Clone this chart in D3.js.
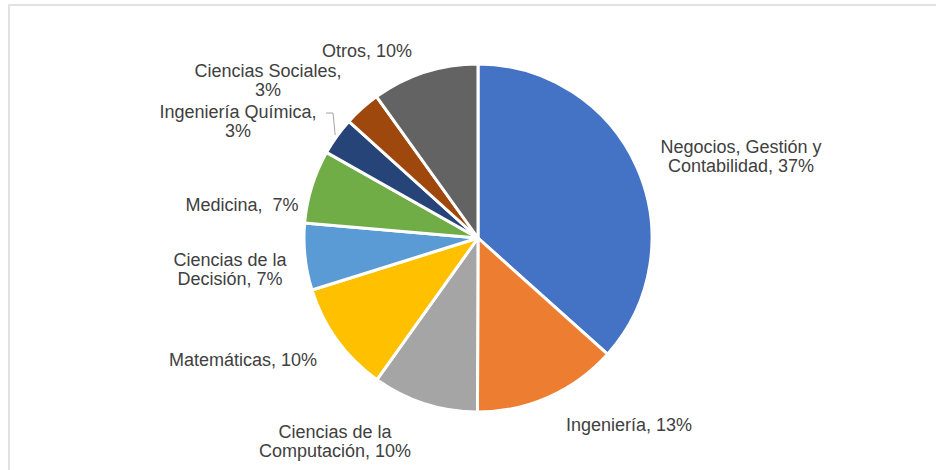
<!DOCTYPE html>
<html>
<head>
<meta charset="utf-8">
<script src="https://cdn.jsdelivr.net/npm/d3@7"></script>
<style>
html,body{margin:0;padding:0;background:#fff;}
svg{display:block;}
text{font-family:"Liberation Sans",Arial,sans-serif;font-size:18px;fill:#404040;white-space:pre;}
</style>
</head>
<body>
<svg id="chart" width="936" height="470"></svg>
<script>
// Data
const categories = ["Negocios, Gestión y Contabilidad","Ingeniería","Ciencias de la Computación","Matemáticas","Ciencias de la Decisión","Medicina","Ingeniería Química","Ciencias Sociales","Otros"];
const values = [36.6, 13.4, 9.8, 10.3, 6.2, 6.8, 3.5, 3.4, 9.9];
const shownPercent = ["37%","13%","10%","10%","7%","7%","3%","3%","10%"];
const labelLines = [
  ["Negocios, Gestión y","Contabilidad, 37%"],
  ["Ingeniería, 13%"],
  ["Ciencias de la","Computación, 10%"],
  ["Matemáticas, 10%"],
  ["Ciencias de la","Decisión, 7%"],
  ["Medicina,  7%"],
  ["Ingeniería Química,","3%"],
  ["Ciencias Sociales,","3%"],
  ["Otros, 10%"]
];
const colors = ["#4472c4","#ed7d31","#a5a5a5","#ffc000","#5b9bd5","#70ad47","#264478","#9e480e","#636363"];

const svg = d3.select("#chart");
// outer chart border
svg.append("rect").attr("x",9).attr("y",5).attr("width",1000).attr("height",1000)
  .attr("fill","none").attr("stroke","#d9d9d9").attr("stroke-width",1.5);

const cx = 478, cy = 238, R = 174;
const g = svg.append("g").attr("transform",`translate(${cx},${cy})`);
const pie = d3.pie().sort(null).value(d=>d)(values);
const arc = d3.arc().innerRadius(0).outerRadius(R);
g.selectAll("path").data(pie).join("path")
  .attr("d",arc).attr("fill",(d,i)=>colors[i])
  .attr("stroke","#fff").attr("stroke-width",3).attr("stroke-linejoin","round");

const labelPos = [
  [741-cx,147-cy],[629-cx,425-cy],[335-cx,432-cy],[243-cx,360-cy],[230-cx,260-cy],
  [242-cx,205-cy],[238-cx,112-cy],[268-cx,71-cy],[367-cx,51-cy]
];
const lineH = 19;
labelLines.forEach((lines,i)=>{
  const t = g.append("text").attr("text-anchor","middle")
    .attr("transform",`translate(${labelPos[i][0]},${labelPos[i][1]})`);
  lines.forEach((ln,j)=>{
    t.append("tspan").attr("x",0).attr("y",j*lineH).attr("dy","0.35em").text(ln);
  });
});
// leader line for Ingeniería Química
const qa = pie[6];
const mid = (qa.startAngle+qa.endAngle)/2;
const ex = Math.sin(mid)*(R+2), ey = -Math.cos(mid)*(R+2);
g.append("path")
  .attr("d",`M${326-cx},${113-cy}H${333-cx}L${ex},${ey}`)
  .attr("fill","none").attr("stroke","#a6a6a6").attr("stroke-width",1);
</script>
</body>
</html>
